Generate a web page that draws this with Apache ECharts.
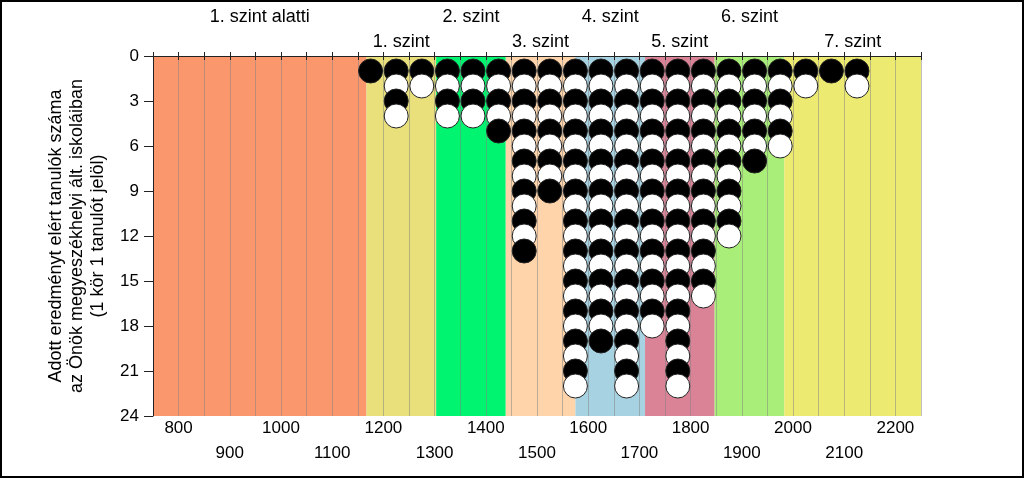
<!DOCTYPE html>
<html>
<head>
<meta charset="utf-8">
<script src="https://cdn.jsdelivr.net/npm/echarts@6/dist/echarts.min.js"></script>
<style>
  html, body { margin: 0; padding: 0; background: #fff; }
  #chart { width: 1024px; height: 478px; box-sizing: border-box; border: 2px solid #000; }
</style>
</head>
<body>
<div id="chart"></div>
<script>
// ---- data ----
const columnScores = [1175, 1225, 1275, 1325, 1375, 1425, 1475, 1525, 1575, 1625,
                      1675, 1725, 1775, 1825, 1875, 1925, 1975, 2025, 2075, 2125];
const studentCounts = [1, 4, 2, 4, 4, 5, 13, 9, 22, 19,
                       22, 18, 22, 16, 12, 7, 6, 2, 1, 2];
const bandEdges = [750, 1167, 1303, 1439, 1575, 1711, 1847, 1983, 2250];
const bandNames = ['1. szint alatti', '1. szint', '2. szint', '3. szint',
                   '4. szint', '5. szint', '6. szint', '7. szint'];
const bandColors = ['#FA976C', '#E9E07C', '#00F46F', '#FFD4AA',
                    '#A7D2E2', '#DA8397', '#A9EE78', '#EDEA72'];
const xMin = 750, xMax = 2250, xStep = 50;
const yMin = 0, yMax = 24, yStep = 3;
const yTitle = 'Adott eredményt elért tanulók száma\naz Önök megyeszékhelyi ált. iskoláiban\n(1 kör 1 tanulót jelöl)';

// ---- build ----
const points = [];
columnScores.forEach((x, i) => {
  for (let k = 1; k <= studentCounts[i]; k++) points.push([x, k]);
});

const areas = bandNames.map((name, i) => [
  {
    xAxis: bandEdges[i], name: name,
    itemStyle: { color: bandColors[i], opacity: 1 },
    label: { distance: i % 2 === 0 ? 30 : 5 }
  },
  { xAxis: bandEdges[i + 1] }
]);

const font = 'Liberation Sans, Arial, sans-serif';

const chart = echarts.init(document.getElementById('chart'), null, { renderer: 'canvas' });
chart.setOption({
  animation: false,
  textStyle: { fontFamily: font },
  grid: { left: 151, right: 101, top: 54, bottom: 60, containLabel: false },
  xAxis: [
    {
      type: 'value', position: 'bottom', min: xMin, max: xMax, interval: xStep, z: 3,
      axisLine: { show: true, lineStyle: { color: '#222', width: 1 } },
      axisTick: { show: true, length: 4, lineStyle: { color: '#222' } },
      splitLine: { show: true, lineStyle: { color: 'rgba(130,130,130,0.5)', width: 1 } },
      axisLabel: {
        show: true, margin: 0, color: '#000', fontSize: 17, fontFamily: font, lineHeight: 25,
        showMinLabel: true, showMaxLabel: true,
        formatter: v => (v % 200 === 0 ? String(v) : (v % 100 === 0 ? '\n' + v : ''))
      }
    },
    {
      type: 'value', position: 'top', min: xMin, max: xMax, interval: xStep, z: 3,
      axisLine: { show: true, lineStyle: { color: '#222', width: 1 } },
      axisTick: { show: true, length: 4, lineStyle: { color: '#222' } },
      splitLine: { show: false },
      axisLabel: { show: false }
    }
  ],
  yAxis: {
    type: 'value', inverse: true, min: yMin, max: yMax, interval: yStep, z: 3,
    name: yTitle, nameLocation: 'middle', nameRotate: 90, nameGap: 44,
    nameTextStyle: { fontSize: 18, lineHeight: 21, color: '#000', fontFamily: font, align: 'center' },
    axisLine: { show: true, lineStyle: { color: '#222', width: 1 } },
    axisTick: { show: true, length: 9, lineStyle: { color: '#222' } },
    splitLine: { show: false },
    axisLabel: { color: '#000', fontSize: 17, fontFamily: font, margin: 14 }
  },
  series: [
    {
      type: 'line', data: [], z: 1, silent: true, xAxisIndex: 0,
      markArea: {
        silent: true,
        label: { show: true, position: 'top', color: '#000', fontSize: 18, fontFamily: font },
        data: areas
      }
    },
    {
      type: 'scatter', z: 5, xAxisIndex: 0,
      symbol: 'circle', symbolSize: 24,
      data: points,
      itemStyle: {
        color: p => (p.data[1] % 2 === 1 ? '#000' : '#fff'),
        borderColor: '#222', borderWidth: 1, opacity: 1
      }
    }
  ]
});
</script>
</body>
</html>
